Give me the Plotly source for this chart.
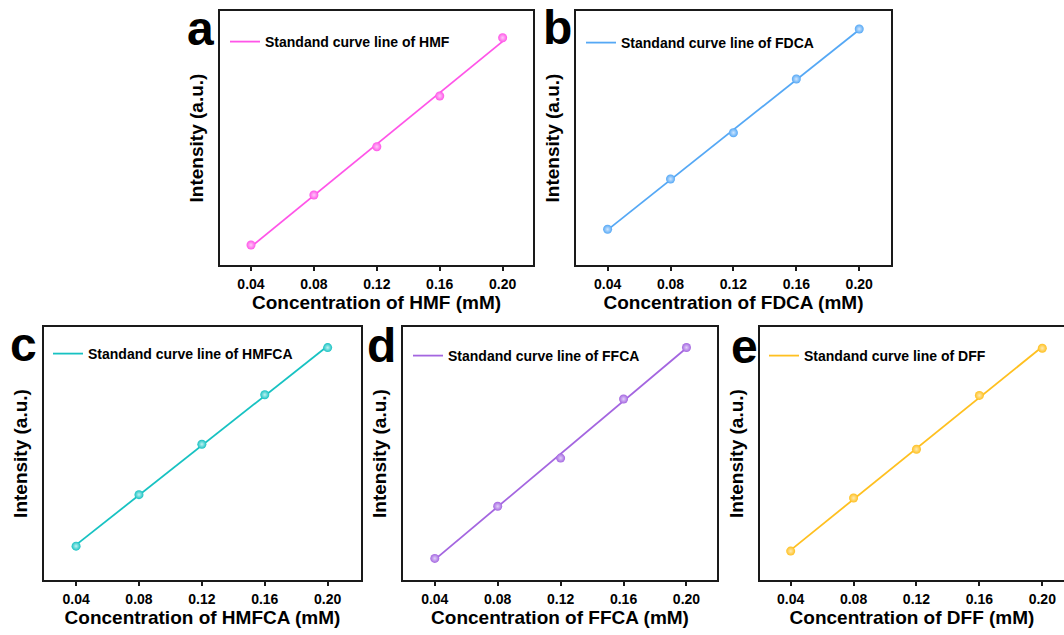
import numpy as np
import plotly.graph_objects as go

# ---- data (concentration in mM, intensity in arbitrary units) ----
conc = [0.04, 0.08, 0.12, 0.16, 0.20]
int_hmf = [20.0, 70.0, 118.3, 169.0, 227.3]
int_fdca = [35.7, 86.0, 132.3, 186.0, 236.0]
int_hmfca = [34.0, 85.7, 136.3, 186.0, 233.3]
int_ffca = [21.7, 74.0, 122.4, 181.7, 233.4]
int_dff = [29.0, 82.3, 131.3, 185.3, 232.7]
compounds = ["HMF", "FDCA", "HMFCA", "FFCA", "DFF"]
panel_letters = ["a", "b", "c", "d", "e"]
tick_vals = [0.04, 0.08, 0.12, 0.16, 0.20]
tick_text = ["0.04", "0.08", "0.12", "0.16", "0.20"]

series = [int_hmf, int_fdca, int_hmfca, int_ffca, int_dff]
colors = ["#FF55E8", "#55A8F5", "#17C2C2", "#A466E0", "#FFC020"]
centers = ["#FFC8F8", "#CFE6FF", "#BFF2F2", "#E2D0FA", "#FFEAB0"]

W, H = 1064, 635
# frames in pixels: (left, right, top, bottom)
frames = [
    (220, 533, 11, 265),
    (576, 891, 11, 265),
    (44, 361, 327, 580),
    (403, 717, 327, 580),
    (760, 1064, 327, 580),
]
xranges = [[0.0203, 0.2193], [0.0199, 0.2202], [0.0196, 0.2212], [0.0198, 0.2194], [0.0205, 0.2138]]
legend_pos = [(225, 42), (581, 43), (48, 354), (408, 356), (764, 356)]
letter_pos = [(200, 28), (557, 27), (23, 344), (381, 345), (744, 346)]

FONT = "Liberation Sans, Arial, sans-serif"
fig = go.Figure()
layout = dict(
    width=W, height=H, margin=dict(l=0, r=0, t=0, b=0),
    paper_bgcolor="white", plot_bgcolor="white",
    font=dict(family=FONT, color="black"),
    annotations=[],
)

for i, (name, ys, col, cen) in enumerate(zip(compounds, series, colors, centers)):
    k = "" if i == 0 else str(i + 1)
    xa, ya = "x" + k, "y" + k
    lg = "legend" + k
    coef = np.polyfit(conc, ys, 1)
    fit_x = [conc[0], conc[-1]]
    fit_y = list(np.polyval(coef, fit_x))
    fig.add_trace(go.Scatter(
        x=fit_x, y=fit_y, mode="lines", name="Standand curve line of " + name,
        line=dict(color=col, width=1.8), xaxis=xa, yaxis=ya, legend=lg,
    ))
    fig.add_trace(go.Scatter(
        x=conc, y=ys, mode="markers", showlegend=False,
        marker=dict(size=9, color=col, line=dict(width=0),
                    gradient=dict(type="radial", color=cen)),
        xaxis=xa, yaxis=ya,
    ))
    l, r, t, b = frames[i]
    dom_x = [l / W, r / W]
    dom_y = [1 - b / H, 1 - t / H]
    layout["xaxis" + k] = dict(
        domain=dom_x, range=xranges[i], anchor=ya,
        showline=True, linecolor="#1a1a1a", linewidth=2, mirror=True,
        ticks="outside", ticklen=4, tickwidth=1.5, tickcolor="#1a1a1a",
        tickvals=tick_vals, ticktext=tick_text, ticklabelstandoff=1,
        tickfont=dict(size=14, weight="bold", family=FONT),
        showgrid=False, zeroline=False,
        title=dict(text="Concentration of " + name + " (mM)",
                   font=dict(size=19, weight="bold", family=FONT), standoff=0),
    )
    layout["yaxis" + k] = dict(
        domain=dom_y, range=[0, 254], anchor=xa,
        showline=True, linecolor="#1a1a1a", linewidth=2,
        mirror=(i != 4), ticks="", showticklabels=False,
        showgrid=False, zeroline=False,
        title=dict(text="Intensity (a.u.)",
                   font=dict(size=19, weight="bold", family=FONT), standoff=9),
    )
    lx, lyc = legend_pos[i]
    layout[lg] = dict(
        x=lx / W, y=1 - lyc / H, xanchor="left", yanchor="middle",
        bgcolor="rgba(0,0,0,0)", borderwidth=0,
        font=dict(size=14, weight="bold", family=FONT),
    )
    ax_, ay_ = letter_pos[i]
    layout["annotations"].append(dict(
        text=panel_letters[i], x=ax_ / W, y=1 - ay_ / H, xref="paper", yref="paper",
        xanchor="center", yanchor="middle", showarrow=False,
        font=dict(size=48, weight="bold", family=FONT, color="black"),
    ))

fig.update_layout(**layout)
fig.write_html("out.html")
